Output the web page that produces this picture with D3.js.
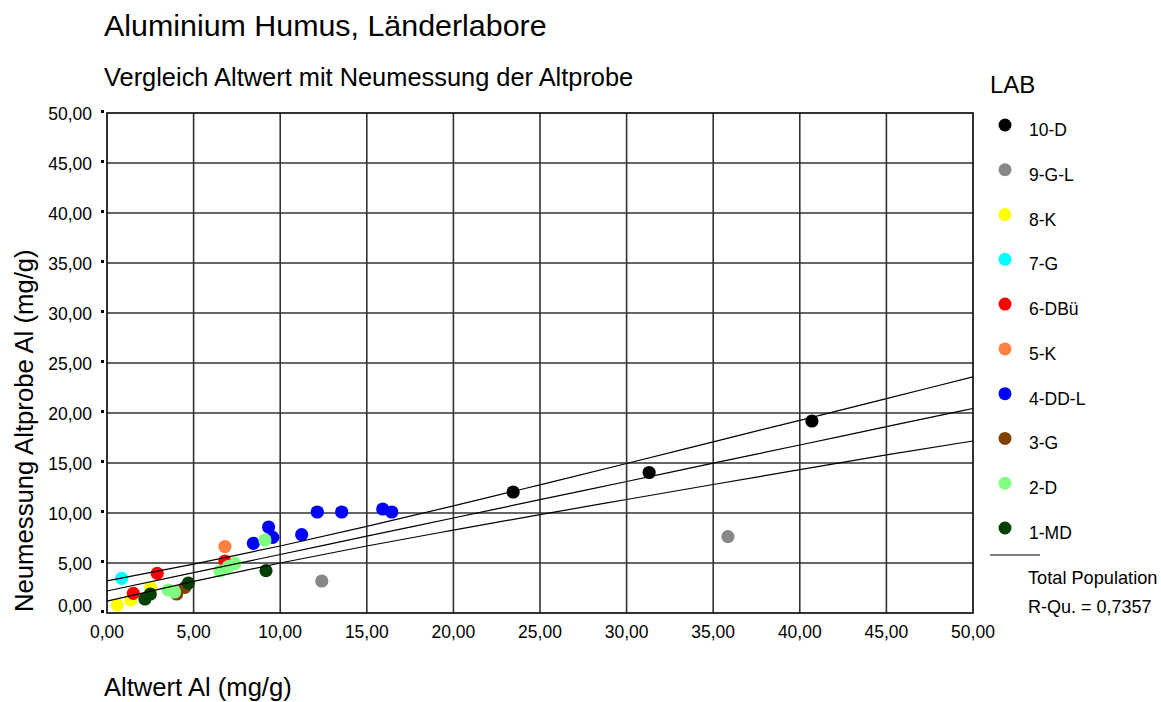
<!DOCTYPE html>
<html>
<head>
<meta charset="utf-8">
<script src="https://cdn.jsdelivr.net/npm/d3@7"></script>
<style>
  html, body { margin: 0; padding: 0; background: #fff; }
  svg { display: block; font-family: "Liberation Sans", Arial, sans-serif; }
</style>
</head>
<body>
<svg id="chart" width="1161" height="702"></svg>
<script>
// Laboratories in legend order (drawn in this order, last on top)
const labs = ["10-D", "9-G-L", "8-K", "7-G", "6-DBü", "5-K", "4-DD-L", "3-G", "2-D", "1-MD"];
const labColors = ["#000000", "#878787", "#ffff00", "#00ffff", "#ff0000", "#ff8040", "#0000ff", "#804000", "#80ff80", "#004000"];

// Each sample: laboratory, old value (Altwert) and re-measurement (Neumessung), mg/g
const sampleLab = [
  "10-D", "10-D", "10-D",
  "9-G-L", "9-G-L",
  "8-K", "8-K", "8-K",
  "7-G",
  "6-DBü", "6-DBü", "6-DBü",
  "5-K",
  "4-DD-L", "4-DD-L", "4-DD-L", "4-DD-L", "4-DD-L", "4-DD-L", "4-DD-L", "4-DD-L",
  "3-G", "3-G",
  "2-D", "2-D", "2-D", "2-D", "2-D", "2-D",
  "1-MD", "1-MD", "1-MD", "1-MD"
];
const altwert = [
  23.45, 31.30, 40.70,
  35.85, 12.40,
  0.60, 1.37, 2.52,
  0.85,
  1.52, 2.90, 6.81,
  6.81,
  8.45, 9.33, 9.57, 11.24, 12.14, 13.55, 15.92, 16.44,
  4.02, 4.50,
  3.54, 3.90, 6.52, 7.00, 7.39, 9.12,
  2.19, 2.50, 4.70, 9.18
];
const neumessung = [
  12.10, 14.05, 19.20,
  7.63, 3.20,
  0.80, 1.30, 2.57,
  3.47,
  1.97, 3.97, 5.20,
  6.65,
  6.97, 8.60, 7.57, 7.83, 10.10, 10.10, 10.40, 10.10,
  1.90, 2.57,
  2.30, 2.10, 4.20, 4.63, 4.97, 7.30,
  1.40, 1.90, 3.00, 4.23
];

// Linear fit (total population) with mean confidence band
const fitX     = [0, 5, 10, 15, 20, 25, 30, 35, 40, 45, 50];
const fitMid   = [2.20, 4.03, 5.85, 7.68, 9.50, 11.33, 13.15, 14.98, 16.80, 18.63, 20.45];
const fitUpper = [3.22, 4.89, 6.70, 8.66, 10.71, 12.82, 14.95, 17.11, 19.27, 21.44, 23.61];
const fitLower = [1.18, 3.17, 5.00, 6.70, 8.29, 9.84, 11.35, 12.85, 14.33, 15.82, 17.20];
const rSquared = "0,7357";

const axisTicks = [0, 5, 10, 15, 20, 25, 30, 35, 40, 45, 50];

const svg = d3.select("#chart");
const plot = { left: 107, right: 973, top: 113, bottom: 613 };

const x = d3.scaleLinear().domain([0, 50]).range([plot.left, plot.right]);
const y = d3.scaleLinear().domain([0, 50]).range([plot.bottom, plot.top]);
const color = d3.scaleOrdinal().domain(labs).range(labColors);

const de = d3.formatLocale({ decimal: ",", thousands: ".", grouping: [3], currency: ["", " €"] });
const fmt = de.format(".2f");

// Titles
svg.append("text").attr("x", 104).attr("y", 36)
  .attr("font-size", 30.4).attr("fill", "#000").text("Aluminium Humus, Länderlabore");
svg.append("text").attr("x", 104).attr("y", 86)
  .attr("font-size", 25.4).attr("fill", "#000").text("Vergleich Altwert mit Neumessung der Altprobe");

// Grid lines
const g = svg.append("g");
g.selectAll("line.v").data(axisTicks.slice(1, -1)).enter().append("line")
  .attr("x1", d => x(d)).attr("x2", d => x(d))
  .attr("y1", plot.top).attr("y2", plot.bottom)
  .attr("stroke", "#333").attr("stroke-width", 1.6);
g.selectAll("line.h").data(axisTicks.slice(1, -1)).enter().append("line")
  .attr("y1", d => y(d)).attr("y2", d => y(d))
  .attr("x1", plot.left).attr("x2", plot.right)
  .attr("stroke", "#333").attr("stroke-width", 1.6);

// Frame
svg.append("rect")
  .attr("x", plot.left).attr("y", plot.top)
  .attr("width", plot.right - plot.left).attr("height", plot.bottom - plot.top)
  .attr("fill", "none").attr("stroke", "#000").attr("stroke-width", 1.6);

// Y axis: small square markers and labels
svg.selectAll("rect.ytick").data(axisTicks).enter().append("rect")
  .attr("x", plot.left - 6).attr("y", d => y(d) - 3)
  .attr("width", 3).attr("height", 3).attr("fill", "#000");
svg.selectAll("text.ytick").data(axisTicks).enter().append("text")
  .attr("x", 92).attr("y", d => y(d) + (d === 0 ? -7 : 1))
  .attr("dy", "0.35em").attr("text-anchor", "end")
  .attr("font-size", 17.5).attr("fill", "#000")
  .text(d => fmt(d));

// X axis labels
svg.selectAll("text.xtick").data(axisTicks).enter().append("text")
  .attr("x", d => x(d)).attr("y", 638)
  .attr("text-anchor", "middle")
  .attr("font-size", 17.5).attr("fill", "#000")
  .text(d => fmt(d));

// Axis titles
svg.append("text").attr("x", 104).attr("y", 696)
  .attr("font-size", 25.6).attr("fill", "#000").text("Altwert Al (mg/g)");
svg.append("text")
  .attr("transform", "translate(33,612) rotate(-90)")
  .attr("font-size", 25.7).attr("fill", "#000").text("Neumessung Altprobe Al (mg/g)");

// Points
const samples = sampleLab.map((lab, i) => ({ lab, a: altwert[i], n: neumessung[i] }));
samples.sort((p, q) => labs.indexOf(p.lab) - labs.indexOf(q.lab));
svg.append("g").selectAll("circle").data(samples).enter().append("circle")
  .attr("cx", d => x(d.a)).attr("cy", d => y(d.n)).attr("r", 6.6)
  .attr("fill", d => color(d.lab));

// Fit line and confidence band
const fitLine = arr => d3.line()
  .x((d, i) => x(fitX[i])).y(d => y(d))
  .curve(d3.curveMonotoneX)(arr);
[fitUpper, fitMid, fitLower].forEach(arr => {
  svg.append("path").attr("d", fitLine(arr))
    .attr("fill", "none").attr("stroke", "#000").attr("stroke-width", 1.2);
});

// Legend
const lg = svg.append("g");
lg.append("text").attr("x", 990).attr("y", 93).attr("font-size", 24).attr("fill", "#000").text("LAB");
const ly = d3.scalePoint().domain(labs).range([125, 528]);
lg.selectAll("circle").data(labs).enter().append("circle")
  .attr("cx", 1005).attr("cy", d => ly(d)).attr("r", 6.5).attr("fill", d => color(d));
lg.selectAll("text.item").data(labs).enter().append("text")
  .attr("x", 1029).attr("y", d => ly(d) + 11)
  .attr("font-size", 17.5).attr("fill", "#000").text(d => d);
lg.append("line").attr("x1", 990).attr("x2", 1040).attr("y1", 555).attr("y2", 555)
  .attr("stroke", "#000").attr("stroke-width", 1.2);
lg.append("text").attr("x", 1028).attr("y", 584).attr("font-size", 18.2).attr("fill", "#000").text("Total Population");
lg.append("text").attr("x", 1028).attr("y", 612.5).attr("font-size", 18).attr("fill", "#000").text("R-Qu. = " + rSquared);
</script>
</body>
</html>
